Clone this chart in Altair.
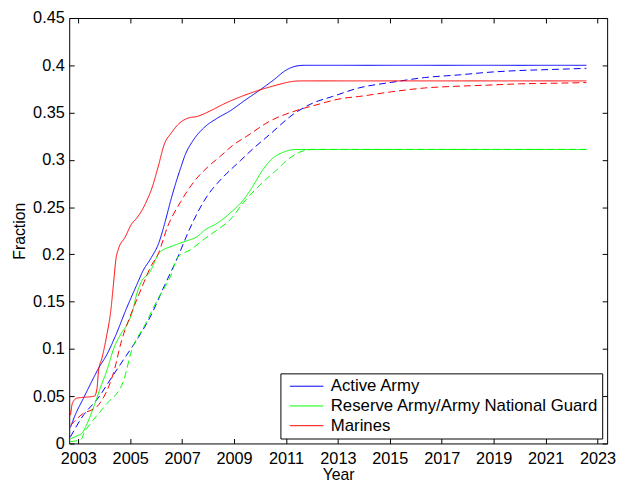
import altair as alt
import pandas as pd

# ---------------- data ----------------
series_names = ["Active Army", "Reserve Army/Army National Guard", "Marines"]
series_colors = ["#0000ff", "#00ff00", "#ff0000"]

army_solid_year = [2002.70, 2002.85, 2003.22, 2003.60, 2003.79, 2004.10, 2004.42, 2004.86,
                   2005.24, 2005.50, 2005.80, 2006.10, 2006.35, 2006.55, 2006.75, 2006.95,
                   2007.10, 2007.46, 2007.84, 2008.35, 2008.86, 2009.37, 2010.00, 2010.50,
                   2011.01, 2011.46, 2011.70, 2022.57]
army_solid_val = [0.017, 0.028, 0.049, 0.070, 0.080, 0.094, 0.113, 0.143,
                  0.167, 0.183, 0.196, 0.212, 0.235, 0.256, 0.275, 0.292,
                  0.304, 0.322, 0.334, 0.344, 0.352, 0.362, 0.374, 0.384,
                  0.395, 0.3995, 0.400, 0.400]

army_dash_year = [2002.70, 2003.15, 2003.79, 2004.29, 2004.80, 2005.31, 2005.81, 2006.32,
                  2006.83, 2007.21, 2007.59, 2007.97, 2008.35, 2008.73, 2009.24, 2009.62,
                  2010.38, 2011.27, 2012.03, 2012.79, 2013.80, 2015.07, 2016.33, 2017.73,
                  2018.74, 2020.01, 2021.28, 2022.57]
army_dash_val = [0.007, 0.028, 0.049, 0.070, 0.091, 0.112, 0.136, 0.167,
                 0.197, 0.222, 0.244, 0.262, 0.275, 0.286, 0.299, 0.309,
                 0.327, 0.348, 0.360, 0.367, 0.376, 0.382, 0.387, 0.390,
                 0.3925, 0.3945, 0.3956, 0.3968]

reserve_solid_year = [2002.70, 2002.95, 2003.15, 2003.34, 2003.60, 2003.85, 2004.10, 2004.36,
                      2004.67, 2004.86, 2005.12, 2005.24, 2005.43, 2005.75, 2006.13, 2006.64,
                      2007.14, 2007.59, 2007.84, 2008.35, 2008.86, 2009.37, 2009.81, 2010.00,
                      2010.50, 2010.89, 2011.39, 2011.80, 2022.57]
reserve_solid_val = [0.005, 0.008, 0.011, 0.021, 0.039, 0.059, 0.077, 0.100,
                     0.117, 0.125, 0.143, 0.157, 0.171, 0.181, 0.202, 0.209,
                     0.214, 0.219, 0.225, 0.233, 0.244, 0.258, 0.276, 0.285,
                     0.302, 0.308, 0.311, 0.311, 0.311]

reserve_dash_year = [2002.70, 2003.10, 2003.22, 2003.47, 2004.10, 2004.74, 2005.05, 2005.56,
                     2006.07, 2006.57, 2006.83, 2007.33, 2007.84, 2008.35, 2008.86, 2009.37,
                     2009.80, 2010.25, 2010.63, 2011.01, 2011.52, 2012.03, 2022.57]
reserve_dash_val = [0.002, 0.004, 0.011, 0.021, 0.042, 0.066, 0.098, 0.125,
                    0.153, 0.178, 0.197, 0.205, 0.216, 0.226, 0.237, 0.255,
                    0.268, 0.280, 0.289, 0.299, 0.308, 0.311, 0.311]

marines_solid_year = [2002.70, 2002.78, 2002.95, 2003.30, 2003.62, 2003.72, 2003.78, 2003.91,
                      2004.10, 2004.25, 2004.36, 2004.45, 2004.55, 2004.80, 2005.05, 2005.24,
                      2005.50, 2005.69, 2005.81, 2006.07, 2006.32, 2006.57, 2006.83, 2007.21,
                      2007.59, 2008.10, 2008.60, 2009.37, 2010.00, 2010.63, 2011.27, 2011.60,
                      2022.57]
marines_solid_val = [0.030, 0.043, 0.048, 0.049, 0.050, 0.058, 0.077, 0.090,
                     0.115, 0.140, 0.170, 0.195, 0.206, 0.218, 0.232, 0.238,
                     0.249, 0.260, 0.268, 0.292, 0.317, 0.328, 0.337, 0.344,
                     0.346, 0.352, 0.359, 0.368, 0.374, 0.379, 0.383, 0.3835,
                     0.3835]

marines_dash_year = [2002.70, 2003.15, 2003.72, 2003.98, 2004.36, 2004.67, 2005.05, 2005.43,
                     2005.81, 2006.07, 2006.45, 2006.95, 2007.46, 2007.97, 2008.48, 2008.98,
                     2009.49, 2010.38, 2011.27, 2012.15, 2013.17, 2013.80, 2015.07, 2016.33,
                     2017.73, 2018.74, 2020.01, 2021.28, 2022.57]
marines_dash_val = [0.019, 0.031, 0.039, 0.049, 0.075, 0.109, 0.138, 0.164,
                    0.188, 0.200, 0.230, 0.256, 0.277, 0.292, 0.304, 0.316,
                    0.325, 0.341, 0.351, 0.358, 0.365, 0.367, 0.372, 0.376,
                    0.378, 0.379, 0.3804, 0.381, 0.3817]

x_ticks = [2003, 2005, 2007, 2009, 2011, 2013, 2015, 2017, 2019, 2021, 2023]
y_ticks = [0, 0.05, 0.1, 0.15, 0.2, 0.25, 0.3, 0.35, 0.4, 0.45]

rows = []
def add(name, style, years, vals):
    for yr, v in zip(years, vals):
        rows.append({"series": name, "style": style, "year": yr, "value": v})

add("Active Army", "solid", army_solid_year, army_solid_val)
add("Active Army", "dashed", army_dash_year, army_dash_val)
add("Reserve Army/Army National Guard", "solid", reserve_solid_year, reserve_solid_val)
add("Reserve Army/Army National Guard", "dashed", reserve_dash_year, reserve_dash_val)
add("Marines", "solid", marines_solid_year, marines_solid_val)
add("Marines", "dashed", marines_dash_year, marines_dash_val)
df = pd.DataFrame(rows)

# ---------------- chart ----------------
W, H = 545, 431
FONT = "Liberation Sans"
xscale = alt.Scale(domain=[2002.65, 2023.37], nice=False, zero=False)
yscale = alt.Scale(domain=[0, 0.45], nice=False, zero=False)

lines = alt.Chart(df).mark_line(strokeWidth=1, interpolate="monotone", clip=True).encode(
    x=alt.X("year:Q", scale=xscale,
            axis=alt.Axis(values=x_ticks, format="d", title="Year", ticks=False, tickSize=0,
                          domain=False, grid=False, labelPadding=7, titlePadding=0,
                          labelFontSize=16.5, titleFontSize=16)),
    y=alt.Y("value:Q", scale=yscale,
            axis=alt.Axis(values=y_ticks, labelExpr="format(datum.value, '~g')", title="Fraction",
                          ticks=False, tickSize=0, domain=False, grid=False, labelPadding=5,
                          titlePadding=5, labelFontSize=16.5, titleFontSize=16)),
    color=alt.Color("series:N", scale=alt.Scale(domain=series_names, range=series_colors),
                    legend=alt.Legend(title=None, orient="bottom-right", offset=5,
                                      symbolType="stroke", symbolSize=1150, symbolStrokeWidth=1,
                                      labelFontSize=17, labelFont=FONT, strokeColor="black",
                                      fillColor="white", padding=3, rowPadding=0, clipHeight=20,
                                      symbolOffset=6, labelOffset=7, labelLimit=400)),
    strokeDash=alt.StrokeDash("style:N",
                              scale=alt.Scale(domain=["solid", "dashed"], range=[[1, 0], [7, 4]]),
                              legend=None),
    order=alt.Order("year:Q"),
)

tick_common = dict(labels=False, title=None, domain=False, grid=False, ticks=True,
                   tickSize=5, tickColor="black", tickWidth=1)

ticks_in_a = alt.Chart(df).mark_point(opacity=0).encode(
    x=alt.X("year:Q", scale=xscale, axis=alt.Axis(values=x_ticks, orient="top", offset=-H, **tick_common)),
    y=alt.Y("value:Q", scale=yscale, axis=alt.Axis(values=y_ticks, orient="right", offset=-W, **tick_common)),
)
ticks_in_b = alt.Chart(df).mark_point(opacity=0).encode(
    x=alt.X("year:Q", scale=xscale, axis=alt.Axis(values=x_ticks, orient="bottom", offset=-H, **tick_common)),
    y=alt.Y("value:Q", scale=yscale, axis=alt.Axis(values=y_ticks, orient="left", offset=-W, **tick_common)),
)

chart = alt.layer(lines, ticks_in_a, ticks_in_b).resolve_axis(
    x="independent", y="independent"
).properties(
    width=W, height=H,
    autosize=alt.AutoSizeParams(type="none"),
    padding={"left": 62, "top": 7, "right": 11, "bottom": 45},
    background="white",
).configure_view(
    stroke="black", strokeWidth=1
).configure_axis(
    labelFont=FONT, titleFont=FONT, labelColor="black", titleColor="black",
    titleFontWeight="normal"
)

chart.save("out.html", embed_options={"renderer": "svg", "actions": False})
